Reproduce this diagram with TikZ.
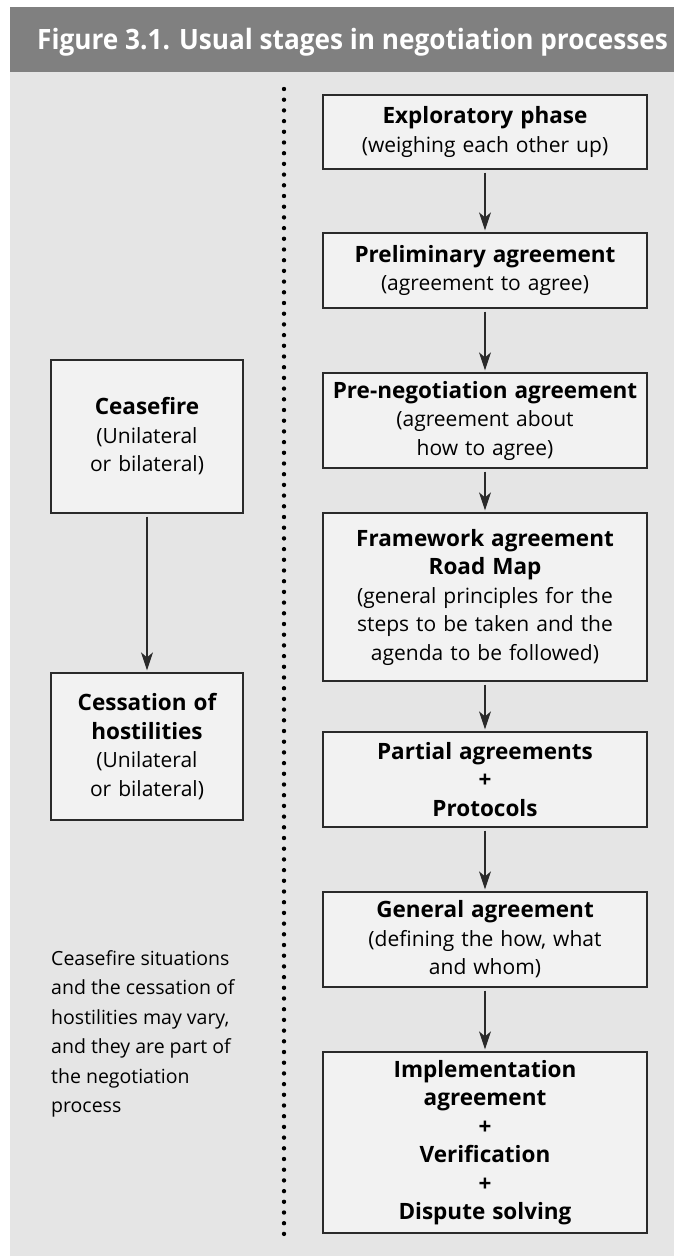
\documentclass[tikz,border=0pt]{standalone}
\usepackage{fontspec}
\setmainfont{Open Sans}
\newfontfamily\titlefont[FakeStretch=0.935]{Open Sans}
\usetikzlibrary{arrows.meta}
\definecolor{hdr}{HTML}{808080}
\definecolor{bgc}{HTML}{E5E5E5}
\definecolor{boxc}{HTML}{F2F2F2}
\definecolor{linec}{HTML}{2A2A2A}
\newcommand\boldline[1]{{\fontsize{22.5}{28.5}\selectfont\bfseries #1}}
\begin{document}
\begin{tikzpicture}[x=1pt,y=-1pt,
  rbox/.style={draw=linec, line width=1.3pt, fill=boxc, text width=318pt, inner xsep=3pt, inner ysep=0pt, align=center, font=\fontsize{21}{28.5}\selectfont},
  lbox/.style={rbox, text width=186pt},
  arr/.style={-{Stealth[length=18pt,width=12pt,inset=5pt]}, line width=1.2pt, draw=linec, shorten <=3pt, shorten >=2pt},
  dots/.style={line width=4.4pt, line cap=round, dash pattern=on 0pt off 10.7pt, draw=black}]
\useasboundingbox (0,0) rectangle (674,1256);
\fill[white] (0,0) rectangle (674,1256);
\fill[hdr] (10,7) rectangle (674,72);
\fill[bgc] (10,72) rectangle (674,1256);
\node[anchor=base west, text=white, inner sep=0pt, font=\titlefont\bfseries\fontsize{28}{30}\selectfont] (title) at (37,49) {Figure 3.1. Usual stages in negotiation processes};
\coordinate (dtop) at (284,89);
\coordinate (dbot) at (284,1236);
\draw[dots] (dtop) -- (dbot);
\node[rbox, minimum height=74pt] (b1) at (485,132) {\boldline{Exploratory phase}\\(weighing each other up)};
\node[rbox, minimum height=75pt] (b2) at (485,270.5) {\boldline{Preliminary agreement}\\(agreement to agree)};
\node[rbox, minimum height=95pt] (b3) at (485,420.5) {\boldline{Pre-negotiation agreement}\\(agreement about\\how to agree)};
\node[rbox, minimum height=168pt] (b4) at (485,597) {\boldline{Framework agreement}\\\boldline{Road Map}\\(general principles for the\\steps to be taken and the\\agenda to be followed)};
\node[rbox, minimum height=95pt] (b5) at (485,779.5) {\boldline{Partial agreements}\\\boldline{+}\\\boldline{Protocols}};
\node[rbox, minimum height=95pt] (b6) at (485,939.5) {\boldline{General agreement}\\(defining the how, what\\and whom)};
\node[rbox, minimum height=181pt] (b7) at (485,1142.5) {\boldline{Implementation}\\\boldline{agreement}\\\boldline{+}\\\boldline{Verification}\\\boldline{+}\\\boldline{Dispute solving}};
\node[lbox, minimum height=153pt] (la) at (147,436.5) {\boldline{Ceasefire}\\(Unilateral\\or bilateral)};
\node[lbox, minimum height=147pt] (lb) at (147,746.5) {\boldline{Cessation of}\\\boldline{hostilities}\\(Unilateral\\or bilateral)};
\node[anchor=north west, inner sep=0pt, align=left, font=\fontsize{19.5}{29.5}\selectfont] (note) at (51,950) {Ceasefire situations\\and the cessation of\\hostilities may vary,\\and they are part of\\the negotiation\\process};
\draw[arr] (b1) -- (b2);
\draw[arr] (b2) -- (b3);
\draw[arr] (b3) -- (b4);
\draw[arr] (b4) -- (b5);
\draw[arr] (b5) -- (b6);
\draw[arr] (b6) -- (b7);
\draw[arr] (la) -- (lb);
\end{tikzpicture}
\end{document}
